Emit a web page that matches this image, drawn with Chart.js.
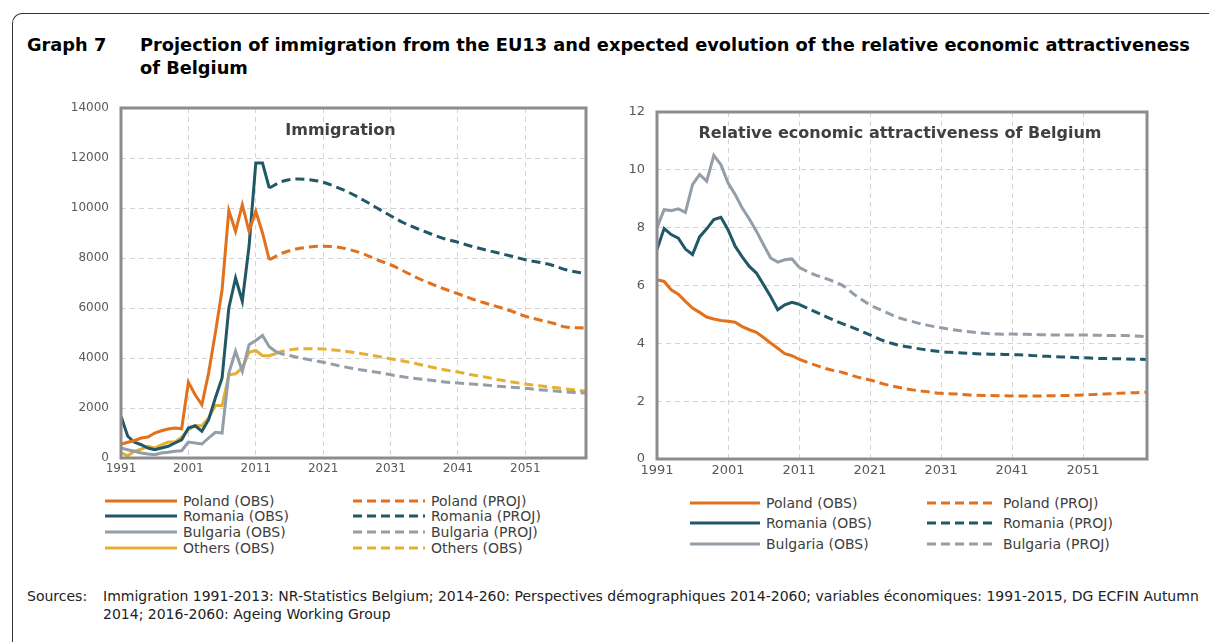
<!DOCTYPE html>
<html>
<head>
<meta charset="utf-8">
<script src="https://cdn.jsdelivr.net/npm/chart.js@4/dist/chart.umd.min.js"></script>
<style>
  body { margin: 0; width: 1209px; height: 642px; background: #fff; font-family: "DejaVu Sans", sans-serif; position: relative; overflow: hidden; }
  .frame { position: absolute; left: 12px; top: 13px; width: 1300px; height: 700px; border-top: 1.5px solid #333; border-left: 1.5px solid #333; border-top-left-radius: 10px; }
  .head { position: absolute; top: 33px; font-weight: bold; font-size: 17.8px; line-height: 23px; color: #000; white-space: nowrap; }
  .src { position: absolute; top: 587px; font-size: 14px; line-height: 18px; color: #222; white-space: nowrap; }
  .box { position: absolute; }
  .leg { position: absolute; font-size: 14px; color: #404040; white-space: nowrap; height: 16px; line-height: 16px; }
  .leg svg { vertical-align: middle; margin-right: 6px; position: relative; top: -1px; }
</style>
</head>
<body>
<div class="frame"></div>
<div class="head" style="left:27px">Graph 7</div>
<div class="head" style="left:140px">Projection of immigration from the EU13 and expected evolution of the relative economic attractiveness<br>of Belgium</div>

<div class="box" style="left:70px; top:98px"><canvas id="immChart" width="520" height="380"></canvas></div>
<div class="box" style="left:610px; top:100px"><canvas id="attrChart" width="541" height="379"></canvas></div>
<div id="immLegend"></div>
<div id="attrLegend"></div>

<div class="src" style="left:27px">Sources:</div>
<div class="src" style="left:103px">Immigration 1991-2013: NR-Statistics Belgium; 2014-260: Perspectives démographiques 2014-2060; variables économiques: 1991-2015, DG ECFIN Autumn<br>2014; 2016-2060: Ageing Working Group</div>

<script>
const colors = { poland: '#E2711D', romania: '#215868', bulgaria: '#939EA8', others: '#E5B030' };
const yearTicks = [1991, 2001, 2011, 2021, 2031, 2041, 2051];

// ---- Immigration (left)
const immObsYears = [1991, 1992, 1993, 1994, 1995, 1996, 1997, 1998, 1999, 2000, 2001, 2002,
  2003, 2004, 2005, 2006, 2007, 2008, 2009, 2010, 2011, 2012, 2013, 2014];
const polandObs = [550, 630, 700, 800, 840, 1000, 1090, 1160, 1200, 1170, 3030, 2530,
  2130, 3400, 5000, 6730, 9900, 9070, 10130, 9070, 9870, 9000, 7930, null];
const romaniaObs = [1670, 870, 630, 530, 400, 330, 400, 470, 600, 730, 1200, 1290,
  1070, 1530, 2400, 3200, 6000, 7200, 6270, 8470, 11800, 11800, 10800, null];
const bulgariaObs = [400, 330, 270, 200, 160, 130, 200, 230, 270, 290, 640, 600,
  560, 800, 1030, 1000, 3400, 4270, 3470, 4530, 4700, 4900, 4450, 4250];
const othersObs = [200, 90, 270, 360, 470, 400, 530, 640, 640, 830, 1130, 1290,
  1290, 1600, 2100, 2100, 3330, 3370, 3600, 4230, 4300, 4090, 4090, 4180];

const immProjYears = [2013, 2015, 2017, 2019, 2021, 2023, 2025, 2027, 2029, 2031, 2033, 2035,
  2037, 2039, 2041, 2043, 2045, 2047, 2049, 2051, 2053, 2055, 2057, 2060];
const polandProj = [7930, 8200, 8360, 8440, 8470, 8440, 8330, 8160, 7930, 7730, 7470, 7200,
  6970, 6760, 6570, 6370, 6200, 6040, 5870, 5670, 5530, 5400, 5240, 5200];
const romaniaProj = [10800, 11070, 11160, 11130, 11030, 10830, 10600, 10310, 10000, 9690, 9400, 9170,
  8960, 8770, 8630, 8470, 8330, 8200, 8070, 7930, 7830, 7710, 7530, 7370];
const immProjYears2 = [2014, 2015, 2017, 2019, 2021, 2023, 2025, 2027, 2029, 2031, 2033, 2035,
  2037, 2039, 2041, 2043, 2045, 2047, 2049, 2051, 2053, 2055, 2057, 2060];
const bulgariaProj = [4250, 4160, 4040, 3930, 3830, 3710, 3600, 3510, 3430, 3330, 3240, 3170,
  3110, 3040, 3000, 2960, 2920, 2870, 2830, 2790, 2730, 2690, 2640, 2600];
const othersProj = [4180, 4270, 4360, 4370, 4360, 4310, 4240, 4160, 4070, 3970, 3870, 3760,
  3640, 3530, 3440, 3330, 3240, 3130, 3040, 2960, 2890, 2830, 2760, 2670];

// ---- Relative economic attractiveness (right)
const attrObsYears = [1991, 1992, 1993, 1994, 1995, 1996, 1997, 1998, 1999, 2000, 2001,
  2002, 2003, 2004, 2005, 2006, 2007, 2008, 2009, 2010, 2011];
const polandAttrObs = [6.2, 6.14, 5.85, 5.7, 5.45, 5.22, 5.07, 4.91, 4.84, 4.79, 4.76,
  4.73, 4.58, 4.47, 4.38, 4.2, 4.01, 3.83, 3.64, 3.57, 3.45];
const romaniaAttrObs = [7.24, 7.97, 7.76, 7.64, 7.26, 7.07, 7.68, 7.96, 8.28, 8.36, 7.93,
  7.36, 6.99, 6.66, 6.43, 6.03, 5.62, 5.16, 5.33, 5.42, 5.35];
const bulgariaAttrObs = [8.0, 8.62, 8.59, 8.65, 8.53, 9.49, 9.84, 9.61, 10.5, 10.18, 9.55,
  9.15, 8.68, 8.3, 7.88, 7.41, 6.95, 6.81, 6.89, 6.92, 6.63];

const attrProjYears = [2011, 2013, 2015, 2017, 2019, 2021, 2023, 2025, 2027, 2029, 2031, 2033,
  2035, 2037, 2039, 2041, 2043, 2045, 2047, 2049, 2051, 2053, 2055, 2057, 2060];
const polandAttrProj = [3.45, 3.27, 3.11, 3.0, 2.85, 2.73, 2.59, 2.48, 2.39, 2.33, 2.27, 2.25,
  2.21, 2.2, 2.19, 2.18, 2.18, 2.18, 2.19, 2.2, 2.21, 2.24, 2.26, 2.28, 2.31];
const romaniaAttrProj = [5.35, 5.12, 4.9, 4.69, 4.5, 4.29, 4.08, 3.94, 3.85, 3.77, 3.71, 3.68,
  3.65, 3.63, 3.62, 3.61, 3.59, 3.56, 3.54, 3.52, 3.5, 3.48, 3.47, 3.46, 3.44];
const bulgariaAttrProj = [6.63, 6.39, 6.22, 6.02, 5.65, 5.33, 5.1, 4.89, 4.75, 4.63, 4.54, 4.46,
  4.4, 4.35, 4.32, 4.32, 4.31, 4.3, 4.29, 4.29, 4.29, 4.28, 4.27, 4.27, 4.23];

function pts(years, vals) {
  return years.map((y, i) => ({ x: y, y: vals[i] }));
}
function line(label, color, years, vals, dashed) {
  return {
    label: label,
    data: pts(years, vals),
    borderColor: color,
    backgroundColor: color,
    borderWidth: 3,
    borderDash: dashed ? [9, 5] : [],
    pointRadius: 0,
    tension: dashed ? 0.35 : 0,
    dashed: dashed
  };
}

// frame around plot area + title inside the plot
const framePlugin = {
  id: 'frame',
  afterDatasetsDraw(chart, args, opts) {
    const a = chart.chartArea, ctx = chart.ctx;
    ctx.save();
    ctx.strokeStyle = '#8c8c8c';
    ctx.lineWidth = 3;
    ctx.strokeRect(a.left, a.top, a.right - a.left, a.bottom - a.top);
    ctx.fillStyle = '#404040';
    ctx.font = 'bold 16px "DejaVu Sans"';
    ctx.textAlign = 'center';
    ctx.textBaseline = 'middle';
    ctx.fillText(opts.text, (a.left + a.right) / 2 + opts.dx, a.top + opts.dy);
    ctx.restore();
  }
};

function makeOptions(yMax, yStep, yWidth, fontSize, title) {
  const tickFont = { family: 'DejaVu Sans', size: fontSize };
  return {
    responsive: false,
    animation: false,
    layout: { padding: { top: title.padTop, right: 4 } },
    plugins: { legend: { display: false }, tooltip: { enabled: false }, frame: title },
    scales: {
      x: {
        type: 'linear', min: 1991, max: 2060,
        afterBuildTicks: s => { s.ticks = yearTicks.map(v => ({ value: v })); },
        afterFit: s => { s.height = 20; },
        grid: { color: '#d4d4d4', drawTicks: false },
        border: { display: false, dash: [5, 4] },
        ticks: { padding: 4, color: '#595959', font: tickFont, callback: v => String(v), maxRotation: 0 }
      },
      y: {
        min: 0, max: yMax,
        afterFit: s => { s.width = yWidth; s.paddingTop = 0; s.paddingBottom = 0; },
        grid: { color: '#d4d4d4', drawTicks: false },
        border: { display: false, dash: [5, 4] },
        ticks: { stepSize: yStep, padding: 12, color: '#595959', font: tickFont, callback: v => String(v) }
      }
    }
  };
}

const immChart = new Chart(document.getElementById('immChart'), {
  type: 'line',
  data: {
    datasets: [
      line('Poland (OBS)', colors.poland, immObsYears, polandObs, false),
      line('Romania (OBS)', colors.romania, immObsYears, romaniaObs, false),
      line('Bulgaria (OBS)', colors.bulgaria, immObsYears, bulgariaObs, false),
      line('Others (OBS)', colors.others, immObsYears, othersObs, false),
      line('Poland (PROJ)', colors.poland, immProjYears, polandProj, true),
      line('Romania (PROJ)', colors.romania, immProjYears, romaniaProj, true),
      line('Bulgaria (PROJ)', colors.bulgaria, immProjYears2, bulgariaProj, true),
      line('Others (OBS)', colors.others, immProjYears2, othersProj, true)
    ]
  },
  options: makeOptions(14000, 2000, 51, 12, { text: 'Immigration', dx: -13, dy: 23, padTop: 10 }),
  plugins: [framePlugin]
});

const attrChart = new Chart(document.getElementById('attrChart'), {
  type: 'line',
  data: {
    datasets: [
      line('Poland (OBS)', colors.poland, attrObsYears, polandAttrObs, false),
      line('Romania (OBS)', colors.romania, attrObsYears, romaniaAttrObs, false),
      line('Bulgaria (OBS)', colors.bulgaria, attrObsYears, bulgariaAttrObs, false),
      line('Poland (PROJ)', colors.poland, attrProjYears, polandAttrProj, true),
      line('Romania (PROJ)', colors.romania, attrProjYears, romaniaAttrProj, true),
      line('Bulgaria (PROJ)', colors.bulgaria, attrProjYears, bulgariaAttrProj, true)
    ]
  },
  options: makeOptions(12, 2, 47, 13, { text: 'Relative economic attractiveness of Belgium', dx: -2, dy: 22, padTop: 12 }),
  plugins: [framePlugin]
});

// two-column html legend, obs on the left, proj on the right
function buildLegend(chart, el, cols, rows, len) {
  const sets = chart.data.datasets;
  const half = sets.length / 2;
  sets.forEach((ds, i) => {
    const col = i < half ? 0 : 1;
    const row = i % half;
    const d = document.createElement('div');
    d.className = 'leg';
    d.style.left = cols[col] + 'px';
    d.style.top = (rows[row] - 8) + 'px';
    const dash = ds.dashed ? ' stroke-dasharray="9 5"' : '';
    d.innerHTML = '<svg width="' + len + '" height="4"><line x1="0" y1="2" x2="' + len + '" y2="2" stroke="' +
      ds.borderColor + '" stroke-width="3"' + dash + '/></svg>' + ds.label;
    el.appendChild(d);
  });
}
buildLegend(immChart, document.getElementById('immLegend'), [105, 353], [501, 516, 532, 548], 72);
buildLegend(attrChart, document.getElementById('attrLegend'), [690, 927], [503, 523, 544], 70);
</script>
</body>
</html>
